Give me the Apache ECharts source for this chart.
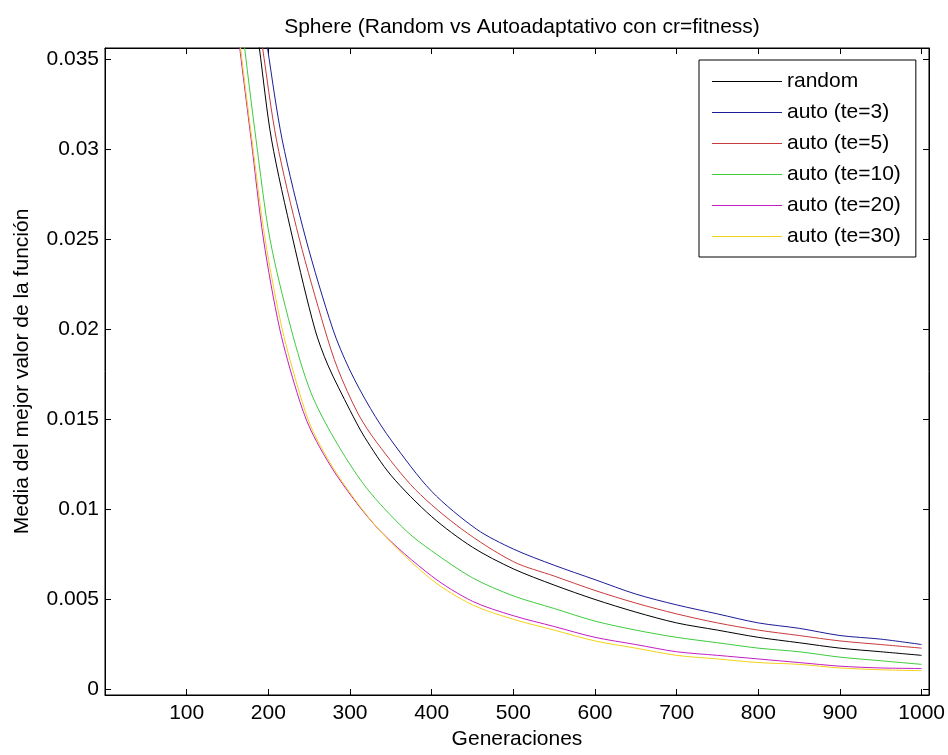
<!DOCTYPE html>
<html>
<head>
<meta charset="utf-8">
<script src="https://cdn.jsdelivr.net/npm/echarts@6/dist/echarts.min.js"></script>
<style>
html,body{margin:0;padding:0;background:#fff;}
#chart{width:948px;height:755px;}
</style>
</head>
<body>
<div id="chart"></div>
<script>
// ---- data (x = generation, y = mean best value) ----
const seriesNames = ['random','auto (te=3)','auto (te=5)','auto (te=10)','auto (te=20)','auto (te=30)'];
const randomData = [[185,0.037],[189,0.0356],[204,0.0305],[230,0.025],[257,0.02],[273,0.018],[300,0.0155],[318,0.0140],[350,0.0119],[400,0.0096],[450,0.0079],[500,0.0067],[550,0.0058],[600,0.0050],[650,0.0043],[700,0.0037],[750,0.0033],[800,0.0029],[850,0.0026],[900,0.0023],[950,0.0021],[1000,0.0019]];
const te3Data = [[195,0.037],[199,0.0356],[217,0.0305],[246,0.025],[279,0.02],[299,0.0178],[325,0.0156],[351,0.0138],[400,0.0110],[455,0.0089],[500,0.0078],[550,0.0069],[600,0.0061],[650,0.0053],[700,0.0047],[750,0.0042],[800,0.0037],[850,0.0034],[900,0.0030],[950,0.0028],[1000,0.0025]];
const te5Data = [[189,0.037],[193,0.0356],[210,0.0305],[238,0.025],[269,0.02],[285,0.0178],[310,0.0153],[333,0.0137],[380,0.0111],[437,0.0089],[500,0.0071],[550,0.0063],[600,0.0055],[650,0.0048],[700,0.0042],[750,0.0037],[800,0.0033],[850,0.0030],[900,0.0027],[950,0.0025],[1000,0.0023]];
const te10Data = [[168,0.037],[171,0.0356],[185,0.0305],[202,0.025],[228,0.02],[252,0.0165],[281,0.0139],[320,0.0112],[369,0.0088],[400,0.0077],[450,0.0062],[500,0.0052],[550,0.0045],[600,0.0038],[650,0.0033],[700,0.0029],[750,0.0026],[800,0.0023],[850,0.0021],[900,0.0018],[950,0.0016],[1000,0.0014]];
const te20Data = [[162,0.037],[165,0.0356],[179,0.0305],[194,0.025],[214,0.02],[235,0.0165],[252,0.0144],[285,0.0118],[335,0.0089],[400,0.0063],[450,0.0049],[500,0.0041],[550,0.0035],[600,0.0029],[650,0.0025],[700,0.0021],[750,0.0019],[800,0.0017],[850,0.0015],[900,0.0013],[950,0.0012],[1000,0.00117]];
const te30Data = [[163,0.037],[166,0.0356],[180,0.0305],[196,0.025],[217,0.02],[238,0.0165],[254,0.0144],[288,0.0117],[337,0.0088],[400,0.0061],[450,0.0047],[500,0.0039],[550,0.0033],[600,0.0027],[650,0.0023],[700,0.0019],[750,0.0017],[800,0.0015],[850,0.0014],[900,0.0012],[950,0.0011],[1000,0.00105]];
const xTicks = [100,200,300,400,500,600,700,800,900,1000];
const xTickLabels = ['100','200','300','400','500','600','700','800','900','1000'];
const yTicks = [0,0.005,0.01,0.015,0.02,0.025,0.03,0.035];
const yTickLabels = ['0','0.005','0.01','0.015','0.02','0.025','0.03','0.035'];
const colors = ['#000000','#1c1c96','#c83a3a','#3ecb3e','#c21ec2','#f2d21a'];

const allData = [randomData, te3Data, te5Data, te10Data, te20Data, te30Data];
const FONT = 'Liberation Sans, Arial, sans-serif';
const FS = 21;
const X_MIN = 0, X_MAX = 1009, Y_MIN = -0.0003, Y_MAX = 0.0356;

function lookup(ticks, labels, v){
  for (let i=0;i<ticks.length;i++){ if (Math.abs(ticks[i]-v) < 1e-9) return labels[i]; }
  return '';
}

const chart = echarts.init(document.getElementById('chart'), null, {renderer:'canvas'});
const axisLine = {show:true, onZero:false, lineStyle:{color:'#000', width:1}};
const series = seriesNames.map((n,i)=>({
  name:n, type:'line', data:allData[i],
  xAxisIndex:0, yAxisIndex:0,
  symbol:'none', showSymbol:false, smooth:0.3, clip:true,
  lineStyle:{color:colors[i], width:1},
  itemStyle:{color:colors[i]},
  z: 2+i
}));
// empty helper series so the mirrored top/right axes render
series.push({name:'_mirror', type:'line', data:[], xAxisIndex:1, yAxisIndex:1, symbol:'none', silent:true});

const option = {
  backgroundColor:'#fff',
  animation:false,
  title:{
    text:'Sphere (Random vs Autoadaptativo con cr=fitness)',
    left:517, top:12, textAlign:'center',
    textStyle:{fontFamily:FONT, fontSize:FS, fontWeight:'normal', color:'#000', lineHeight:FS}
  },
  legend:{
    data: seriesNames.map((n,i)=>({name:n, icon:'path://M0,10L70,10L70,11L0,11Z', itemStyle:{color:colors[i], borderWidth:0}})),
    orient:'vertical',
    left:699, top:60,
    padding:[11,15,10,13],
    itemWidth:70, itemHeight:21, itemGap:10,
    backgroundColor:'#fff',
    borderColor:'#000', borderWidth:1, borderRadius:0,
    textStyle:{fontFamily:FONT, fontSize:FS, color:'#000', lineHeight:FS}
  },
  grid:{left:105, right:19, top:48, bottom:60, containLabel:false, show:true, borderColor:'#000', borderWidth:1, backgroundColor:'transparent'},
  xAxis:[{
    type:'value', min:X_MIN, max:X_MAX,
    name:'Generaciones', nameLocation:'middle', nameGap:32,
    nameTextStyle:{fontFamily:FONT, fontSize:FS, color:'#000'},
    axisLine:axisLine,
    axisTick:{show:true, inside:true, length:6, lineStyle:{color:'#000'}, customValues:xTicks},
    axisLabel:{fontFamily:FONT, fontSize:FS, color:'#000', margin:8, customValues:xTicks,
      formatter:v=>lookup(xTicks,xTickLabels,v)},
    splitLine:{show:false}
  },{
    type:'value', min:X_MIN, max:X_MAX, position:'top',
    axisLine:axisLine,
    axisTick:{show:true, inside:true, length:6, lineStyle:{color:'#000'}, customValues:xTicks},
    axisLabel:{show:false}, splitLine:{show:false}
  }],
  yAxis:[{
    type:'value', min:Y_MIN, max:Y_MAX,
    name:'Media del mejor valor de la función', nameLocation:'middle', nameGap:72, nameRotate:90,
    nameTextStyle:{fontFamily:FONT, fontSize:FS, color:'#000'},
    axisLine:axisLine,
    axisTick:{show:true, inside:true, length:6, lineStyle:{color:'#000'}, customValues:yTicks},
    axisLabel:{fontFamily:FONT, fontSize:FS, color:'#000', margin:6, customValues:yTicks,
      formatter:v=>lookup(yTicks,yTickLabels,v)},
    splitLine:{show:false}
  },{
    type:'value', min:Y_MIN, max:Y_MAX, position:'right',
    axisLine:axisLine,
    axisTick:{show:true, inside:true, length:6, lineStyle:{color:'#000'}, customValues:yTicks},
    axisLabel:{show:false}, splitLine:{show:false}
  }],
  series: series
};
chart.setOption(option);
</script>
</body>
</html>
